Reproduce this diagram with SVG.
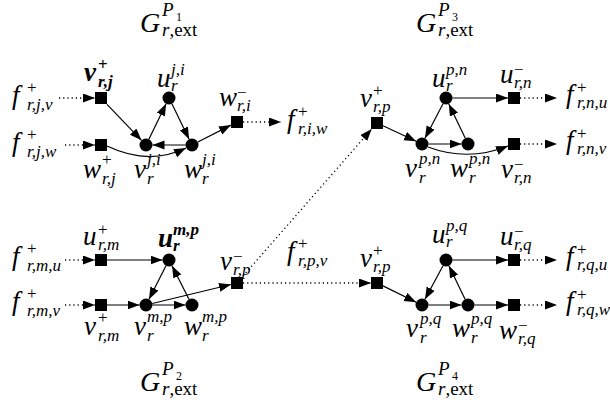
<svg xmlns="http://www.w3.org/2000/svg" width="610" height="410" viewBox="0 0 610 410">
<style>
text { font-family: "Liberation Serif", "Times New Roman", serif; font-style: italic; fill: #000; }
.m { font-size: 27px; }
.s { font-size: 17px; }
.u { font-style: normal; }
.b { font-weight: bold; }
.tg { font-size: 28px; }
.tp { font-size: 19px; }
.ti { font-size: 12px; font-style: normal; }
.sq { fill: #000; }
.nd { fill: #000; }
.e { stroke: #000; stroke-width: 1.2; fill: none; marker-end: url(#ah); }
.d { stroke: #000; stroke-width: 1.3; fill: none; stroke-dasharray: 1.2 3; marker-end: url(#ah); }
</style>
<defs>
<marker id="ah" markerUnits="userSpaceOnUse" markerWidth="13" markerHeight="10" refX="12" refY="4.5" orient="auto">
<path d="M0,0 L12,4.5 L0,9 z" fill="#000"/>
</marker>
</defs>
<rect width="610" height="410" fill="#fff"/>

<!-- titles -->
<g id="title-p1"><text><tspan class="tg" x="140" y="32">G</tspan><tspan class="tp" x="162" y="16">P</tspan><tspan class="ti" x="176" y="21">1</tspan><tspan class="tp" x="162" y="36">r<tspan class="u">,ext</tspan></tspan></text></g>
<g id="title-p3"><text><tspan class="tg" x="416" y="32">G</tspan><tspan class="tp" x="438" y="16">P</tspan><tspan class="ti" x="452" y="21">3</tspan><tspan class="tp" x="438" y="36">r<tspan class="u">,ext</tspan></tspan></text></g>
<g id="title-p2"><text><tspan class="tg" x="140" y="391">G</tspan><tspan class="tp" x="162" y="375">P</tspan><tspan class="ti" x="176" y="380">2</tspan><tspan class="tp" x="162" y="395">r<tspan class="u">,ext</tspan></tspan></text></g>
<g id="title-p4"><text><tspan class="tg" x="416" y="391">G</tspan><tspan class="tp" x="438" y="375">P</tspan><tspan class="ti" x="452" y="380">4</tspan><tspan class="tp" x="438" y="395">r<tspan class="u">,ext</tspan></tspan></text></g>

<!-- connectors -->
<g id="connectors">
<!-- P1 -->
<line class="d" x1="59" y1="98" x2="95" y2="98"/>
<line class="d" x1="65" y1="145" x2="95" y2="145"/>
<line class="e" x1="107" y1="104.3" x2="141.5" y2="140.3"/>
<line class="e" x1="148.9" y1="139.2" x2="166.1" y2="103.8"/>
<line class="e" x1="171.9" y1="103.8" x2="189.1" y2="139.2"/>
<line class="e" x1="185.5" y1="145" x2="152.5" y2="145"/>
<path class="e" d="M107,146 Q149,166 186,148"/>
<line class="e" x1="197.8" y1="142" x2="231" y2="125.1"/>
<line class="d" x1="243" y1="122" x2="281" y2="122"/>
<!-- P3 -->
<line class="e" x1="383" y1="125.8" x2="416.1" y2="141.2"/>
<line class="e" x1="443" y1="103.8" x2="425" y2="138.2"/>
<line class="e" x1="428.5" y1="144" x2="461.5" y2="144"/>
<line class="e" x1="465.2" y1="138.1" x2="448.8" y2="103.9"/>
<line class="e" x1="452.5" y1="98" x2="508" y2="98"/>
<path class="e" d="M428,147 Q468,162 508,146"/>
<line class="d" x1="520" y1="98" x2="557" y2="98"/>
<line class="d" x1="520" y1="144" x2="557" y2="144"/>
<!-- P2 -->
<line class="d" x1="65" y1="260" x2="95" y2="260"/>
<line class="d" x1="65" y1="305" x2="95" y2="305"/>
<line class="e" x1="107" y1="260" x2="162.5" y2="260"/>
<line class="e" x1="107" y1="305" x2="139.5" y2="305"/>
<line class="e" x1="166" y1="265.8" x2="149" y2="299.2"/>
<line class="e" x1="152.5" y1="305" x2="185.5" y2="305"/>
<line class="e" x1="189" y1="299.2" x2="172" y2="265.8"/>
<line class="e" x1="152.3" y1="303.5" x2="231" y2="284.5"/>
<line class="d" x1="243" y1="276.1" x2="371.7" y2="129"/>
<line class="d" x1="243" y1="283" x2="371" y2="283"/>
<!-- P4 -->
<line class="e" x1="383" y1="285.9" x2="416.2" y2="302.2"/>
<line class="e" x1="443" y1="265.7" x2="425" y2="299.3"/>
<line class="e" x1="428.5" y1="305" x2="461.5" y2="305"/>
<line class="e" x1="465.1" y1="299.2" x2="448.9" y2="265.8"/>
<line class="e" x1="452.5" y1="260" x2="508" y2="260"/>
<line class="e" x1="474.5" y1="305" x2="508" y2="305"/>
<line class="d" x1="520" y1="260" x2="557" y2="260"/>
<line class="d" x1="520" y1="305" x2="557" y2="305"/>
</g>

<!-- P1 nodes -->
<g id="f-rjv"><text><tspan class="m" x="12" y="104">f</tspan><tspan class="s u" x="27" y="93">+</tspan><tspan class="s" x="27" y="110">r,j,v</tspan></text></g>
<g id="f-rjw"><text><tspan class="m" x="12" y="151">f</tspan><tspan class="s u" x="27" y="140">+</tspan><tspan class="s" x="27" y="157">r,j,w</tspan></text></g>
<g id="v-plus-rj"><rect class="sq" x="95" y="92" width="12" height="12"/><text class="b"><tspan class="m" x="84" y="81">v</tspan><tspan class="s u" x="98" y="70">+</tspan><tspan class="s" x="98" y="87">r,j</tspan></text></g>
<g id="w-plus-rj"><rect class="sq" x="95" y="139" width="12" height="12"/><text><tspan class="m" x="83" y="178">w</tspan><tspan class="s u" x="102" y="165">+</tspan><tspan class="s" x="102" y="184">r,j</tspan></text></g>
<g id="u-ji"><circle class="nd" cx="169" cy="98" r="6.5"/><text><tspan class="m" x="157" y="87">u</tspan><tspan class="s" x="171" y="75">j,i</tspan><tspan class="s" x="171" y="91">r</tspan></text></g>
<g id="v-ji"><circle class="nd" cx="146" cy="145" r="6.5"/><text><tspan class="m" x="134" y="178">v</tspan><tspan class="s" x="147" y="165">j,i</tspan><tspan class="s" x="147" y="184">r</tspan></text></g>
<g id="w-ji"><circle class="nd" cx="192" cy="145" r="6.5"/><text><tspan class="m" x="184" y="178">w</tspan><tspan class="s" x="202" y="165">j,i</tspan><tspan class="s" x="202" y="184">r</tspan></text></g>
<g id="w-minus-ri"><rect class="sq" x="231" y="116" width="12" height="12"/><text><tspan class="m" x="219" y="106">w</tspan><tspan class="s u" x="237" y="98">−</tspan><tspan class="s" x="237" y="111">r,i</tspan></text></g>
<g id="f-riw"><text><tspan class="m" x="287" y="128">f</tspan><tspan class="s u" x="298" y="117">+</tspan><tspan class="s" x="298" y="134">r,i,w</tspan></text></g>

<!-- P3 nodes -->
<g id="v-plus-rp-top"><rect class="sq" x="371" y="117" width="12" height="12"/><text><tspan class="m" x="360" y="107">v</tspan><tspan class="s u" x="373" y="96">+</tspan><tspan class="s" x="373" y="112">r,p</tspan></text></g>
<g id="u-pn"><circle class="nd" cx="446" cy="98" r="6.5"/><text><tspan class="m" x="432" y="87">u</tspan><tspan class="s" x="446" y="75">p,n</tspan><tspan class="s" x="446" y="91">r</tspan></text></g>
<g id="v-pn"><circle class="nd" cx="422" cy="144" r="6.5"/><text><tspan class="m" x="405" y="177">v</tspan><tspan class="s" x="419" y="164">p,n</tspan><tspan class="s" x="419" y="183">r</tspan></text></g>
<g id="w-pn"><circle class="nd" cx="468" cy="144" r="6.5"/><text><tspan class="m" x="450" y="177">w</tspan><tspan class="s" x="469" y="164">p,n</tspan><tspan class="s" x="469" y="183">r</tspan></text></g>
<g id="u-minus-rn"><rect class="sq" x="508" y="92" width="12" height="12"/><text><tspan class="m" x="500" y="83">u</tspan><tspan class="s u" x="514" y="75">−</tspan><tspan class="s" x="514" y="88">r,n</tspan></text></g>
<g id="v-minus-rn"><rect class="sq" x="508" y="138" width="12" height="12"/><text><tspan class="m" x="501" y="178">v</tspan><tspan class="s u" x="514" y="170">−</tspan><tspan class="s" x="514" y="183">r,n</tspan></text></g>
<g id="f-rnu"><text><tspan class="m" x="566" y="103">f</tspan><tspan class="s u" x="577" y="93">+</tspan><tspan class="s" x="577" y="108">r,n,u</tspan></text></g>
<g id="f-rnv"><text><tspan class="m" x="566" y="149">f</tspan><tspan class="s u" x="577" y="139">+</tspan><tspan class="s" x="577" y="154">r,n,v</tspan></text></g>

<!-- P2 nodes -->
<g id="f-rmu"><text><tspan class="m" x="12" y="265">f</tspan><tspan class="s u" x="27" y="254">+</tspan><tspan class="s" x="27" y="271">r,m,u</tspan></text></g>
<g id="f-rmv"><text><tspan class="m" x="12" y="310">f</tspan><tspan class="s u" x="27" y="299">+</tspan><tspan class="s" x="27" y="316">r,m,v</tspan></text></g>
<g id="u-plus-rm"><rect class="sq" x="95" y="254" width="12" height="12"/><text><tspan class="m" x="83" y="245">u</tspan><tspan class="s u" x="98" y="235">+</tspan><tspan class="s" x="98" y="250">r,m</tspan></text></g>
<g id="v-plus-rm"><rect class="sq" x="95" y="299" width="12" height="12"/><text><tspan class="m" x="84" y="335">v</tspan><tspan class="s u" x="98" y="323">+</tspan><tspan class="s" x="98" y="341">r,m</tspan></text></g>
<g id="u-mp"><circle class="nd" cx="169" cy="260" r="6.5"/><text class="b"><tspan class="m" x="158" y="247">u</tspan><tspan class="s" x="173" y="235">m,p</tspan><tspan class="s" x="173" y="251">r</tspan></text></g>
<g id="v-mp"><circle class="nd" cx="146" cy="305" r="6.5"/><text><tspan class="m" x="134" y="335">v</tspan><tspan class="s" x="147" y="322">m,p</tspan><tspan class="s" x="147" y="341">r</tspan></text></g>
<g id="w-mp"><circle class="nd" cx="192" cy="305" r="6.5"/><text><tspan class="m" x="184" y="335">w</tspan><tspan class="s" x="202" y="322">m,p</tspan><tspan class="s" x="202" y="341">r</tspan></text></g>
<g id="v-minus-rp"><rect class="sq" x="231" y="277" width="12" height="12"/><text><tspan class="m" x="220" y="270">v</tspan><tspan class="s u" x="233" y="262">−</tspan><tspan class="s" x="233" y="275">r,p</tspan></text></g>
<g id="f-rpv"><text><tspan class="m" x="287" y="260">f</tspan><tspan class="s u" x="298" y="249">+</tspan><tspan class="s" x="298" y="266">r,p,v</tspan></text></g>

<!-- P4 nodes -->
<g id="v-plus-rp-bottom"><rect class="sq" x="371" y="277" width="12" height="12"/><text><tspan class="m" x="360" y="267">v</tspan><tspan class="s u" x="373" y="256">+</tspan><tspan class="s" x="373" y="272">r,p</tspan></text></g>
<g id="u-pq"><circle class="nd" cx="446" cy="260" r="6.5"/><text><tspan class="m" x="432" y="243">u</tspan><tspan class="s" x="446" y="231">p,q</tspan><tspan class="s" x="446" y="247">r</tspan></text></g>
<g id="v-pq"><circle class="nd" cx="422" cy="305" r="6.5"/><text><tspan class="m" x="406" y="337">v</tspan><tspan class="s" x="420" y="324">p,q</tspan><tspan class="s" x="420" y="343">r</tspan></text></g>
<g id="w-pq"><circle class="nd" cx="468" cy="305" r="6.5"/><text><tspan class="m" x="452" y="337">w</tspan><tspan class="s" x="471" y="324">p,q</tspan><tspan class="s" x="471" y="343">r</tspan></text></g>
<g id="u-minus-rq"><rect class="sq" x="508" y="254" width="12" height="12"/><text><tspan class="m" x="500" y="245">u</tspan><tspan class="s u" x="514" y="237">−</tspan><tspan class="s" x="514" y="250">r,q</tspan></text></g>
<g id="w-minus-rq"><rect class="sq" x="508" y="299" width="12" height="12"/><text><tspan class="m" x="499" y="339">w</tspan><tspan class="s u" x="518" y="331">−</tspan><tspan class="s" x="518" y="344">r,q</tspan></text></g>
<g id="f-rqu"><text><tspan class="m" x="566" y="265">f</tspan><tspan class="s u" x="577" y="255">+</tspan><tspan class="s" x="577" y="270">r,q,u</tspan></text></g>
<g id="f-rqw"><text><tspan class="m" x="566" y="310">f</tspan><tspan class="s u" x="577" y="300">+</tspan><tspan class="s" x="577" y="315">r,q,w</tspan></text></g>
</svg>
